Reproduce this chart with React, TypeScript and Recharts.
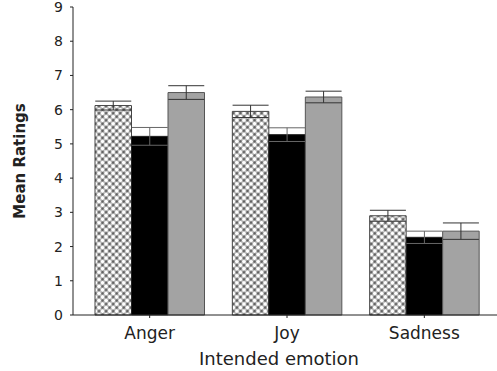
import React from "react";
import {
  BarChart,
  Bar,
  XAxis,
  YAxis,
  ErrorBar,
} from "recharts";

// categories and values
const emotions = ["Anger", "Joy", "Sadness"];
const hatchedMeans = [6.12, 5.95, 2.9];
const hatchedErr = [0.13, 0.18, 0.16];
const blackMeans = [5.22, 5.27, 2.27];
const blackErr = [0.26, 0.2, 0.18];
const grayMeans = [6.5, 6.37, 2.45];
const grayErr = [0.2, 0.17, 0.24];
const yTicks = [0, 1, 2, 3, 4, 5, 6, 7, 8, 9];

const data = emotions.map((emotion, i) => ({
  emotion,
  hatched: hatchedMeans[i],
  hatchedErr: hatchedErr[i],
  black: blackMeans[i],
  blackErr: blackErr[i],
  gray: grayMeans[i],
  grayErr: grayErr[i],
}));

const FONT = "'DejaVu Sans', 'Liberation Sans', Arial, sans-serif";

export default function App() {
  return (
    <div style={{ position: "absolute", left: 0, top: 0, background: "#fff" }}>
      <BarChart
        width={497}
        height={371}
        data={data}
        margin={{ top: 7, right: 0, bottom: 26, left: 0 }}
        barGap={0}
        style={{ fontFamily: FONT }}
      >
        <defs>
          <pattern
            id="crosshatch"
            width={5}
            height={5}
            patternUnits="userSpaceOnUse"
            patternTransform="rotate(45)"
          >
            <rect width={5} height={5} fill="#5a5a5a" />
            <circle cx={2.5} cy={2.5} r={2.2} fill="#fff" />
          </pattern>
        </defs>
        <XAxis
          xAxisId="top"
          orientation="top"
          dataKey="emotion"
          height={0}
          tick={false}
          tickLine={false}
          axisLine={{ stroke: "#555" }}
          padding={{ left: 8, right: 4 }}
        />
        <XAxis
          dataKey="emotion"
          height={30}
          tickSize={3}
          tickMargin={9}
          tick={{ fontSize: 17, fill: "#222", fontFamily: FONT }}
          axisLine={{ stroke: "#222" }}
          tickLine={{ stroke: "#222" }}
          padding={{ left: 8, right: 4 }}
          label={{
            value: "Intended emotion",
            position: "bottom",
            offset: 7,
            dx: -6,
            style: { fontSize: 18, fill: "#222", fontFamily: FONT },
          }}
        />
        <YAxis
          type="number"
          domain={[0, 9]}
          ticks={yTicks}
          interval={0}
          width={73}
          tickSize={3}
          tickMargin={7}
          tick={{ fontSize: 14, fill: "#222", fontFamily: FONT }}
          axisLine={{ stroke: "#222" }}
          tickLine={{ stroke: "#222" }}
          label={{
            value: "Mean Ratings",
            angle: -90,
            position: "insideLeft",
            offset: 20,
            style: {
              fontSize: 15,
              fontWeight: "bold",
              fill: "#222",
              fontFamily: FONT,
              textAnchor: "middle",
            },
          }}
        />
        <Bar
          dataKey="hatched"
          barSize={36.5}
          fill="url(#crosshatch)"
          stroke="#444"
          strokeWidth={1}
          isAnimationActive={false}
        >
          <ErrorBar dataKey="hatchedErr" width={18} stroke="#333" strokeWidth={1} isAnimationActive={false} />
        </Bar>
        <Bar
          dataKey="black"
          barSize={36.5}
          fill="#000"
          stroke="#222"
          strokeWidth={1}
          isAnimationActive={false}
        >
          <ErrorBar dataKey="blackErr" width={18} stroke="#666" strokeWidth={1} isAnimationActive={false} />
        </Bar>
        <Bar
          dataKey="gray"
          barSize={36.5}
          fill="#a3a3a3"
          stroke="#555"
          strokeWidth={1}
          isAnimationActive={false}
        >
          <ErrorBar dataKey="grayErr" width={18} stroke="#333" strokeWidth={1} isAnimationActive={false} />
        </Bar>
      </BarChart>
    </div>
  );
}
